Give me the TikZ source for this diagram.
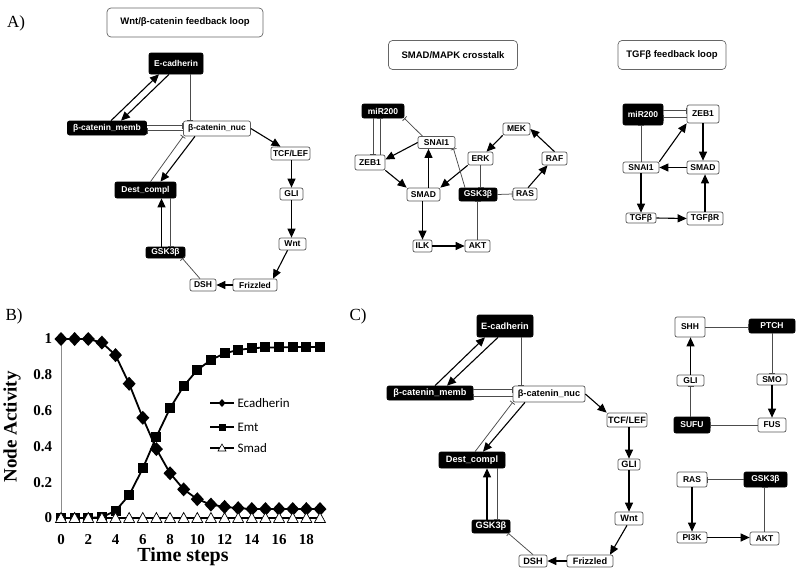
\documentclass[tikz,border=0pt]{standalone}
\usepackage{fontspec}
\setmainfont{Liberation Serif}
\newfontfamily\nodefont{Liberation Sans}
\newfontfamily\legfont{Carlito}
\usetikzlibrary{arrows.meta}
\begin{document}
\begin{tikzpicture}[x=1pt,y=-1pt,
  nbase/.style={rounded corners=2pt, line width=0.7pt, inner sep=0pt, font=\nodefont\bfseries\fontsize{8.5}{10}\selectfont},
  wn/.style={nbase, draw=black!65, fill=white, text=black},
  bn/.style={nbase, draw=black, fill=black, text=white},
  big/.style={font=\nodefont\bfseries\fontsize{9.2}{11}\selectfont},
  sz/.style 2 args={minimum width=#1pt, minimum height=#2pt},
  tbox/.style={draw=black!60, line width=0.7pt, rounded corners=4pt, fill=white, inner sep=0pt, font=\nodefont\bfseries\fontsize{9.5}{11}\selectfont},
  act/.style={-{Triangle[length=9pt,width=8pt]}, line width=1.1pt, black},
  inh/.style={-{Bar[width=6pt]}, line width=0.75pt, black!70},
  plab/.style={font=\fontsize{17}{20}\selectfont},
  tick/.style={font=\bfseries\fontsize{15}{17}\selectfont},
  leg/.style={anchor=west, font=\legfont\fontsize{13}{15}\selectfont}
]
\fill[white] (0,0) rectangle (800,573);
\useasboundingbox (0,0) rectangle (800,573);

% ---------- labels ----------
\node[plab] (lA) at (16,23) {A)};
\node[plab] (lB) at (14,316) {B)};
\node[plab] (lC) at (358,316) {C)};

% ---------- titles ----------
\node[tbox, minimum width=156pt, minimum height=29pt] (t1) at (185,22.5) {Wnt/β-catenin feedback loop};
\node[tbox, minimum width=129pt, minimum height=29pt] (t2) at (453,55) {SMAD/MAPK crosstalk};
\node[tbox, minimum width=108pt, minimum height=29pt] (t3) at (672,55) {TGFβ feedback loop};

% ---------- Panel A left ----------
\node[bn, sz={54}{21}] (ecadA) at (176,63.5) {E-cadherin};
\node[bn, sz={79}{14}] (membA) at (107,128) {β-catenin\_memb};
\node[wn, sz={67}{15}] (nucA) at (217,128.5) {β-catenin\_nuc};
\node[wn, sz={39}{13}] (tcfA) at (290.5,153.5) {TCF/LEF};
\node[wn, sz={23}{12}] (gliA) at (291.5,194) {GLI};
\node[wn, sz={27}{12}] (wntA) at (292.5,244) {Wnt};
\node[wn, sz={44}{12}] (frizA) at (255,285) {Frizzled};
\node[wn, sz={26}{12}] (dshA) at (203,285) {DSH};
\node[bn, sz={39}{11}] (gskA) at (165.5,252.5) {GSK3β};
\node[bn, sz={61}{16}] (destA) at (145.5,190) {Dest\_compl};

\draw[act] ([xshift=4pt]membA.north) -- ([xshift=-17pt]ecadA.south);
\draw[act] ([xshift=-7pt]ecadA.south) -- ([xshift=14pt]membA.north);
\draw[inh] ([xshift=14pt]ecadA.south) -- ([xshift=14pt]ecadA.south |- nucA.north);
\draw[inh] ([yshift=2.5pt]membA.east) -- ([yshift=2.5pt]membA.east -| nucA.west);
\draw[inh] ([yshift=-2.5pt]membA.east -| nucA.west) -- ([yshift=-2.5pt]membA.east);
\draw[act] ([xshift=-22pt]nucA.south) -- ([xshift=15pt]destA.north);
\draw[inh] ([xshift=5pt]destA.north) -- (nucA.south west);
\draw[act] (nucA.east) -- ([xshift=-10pt]tcfA.north);
\draw[act] (gliA.north |- tcfA.south) -- (gliA.north);
\draw[act] (gliA.south) -- (gliA.south |- wntA.north);
\draw[act] ([xshift=-5pt]wntA.south) -- ([xshift=18pt]frizA.north);
\draw[act] (frizA.west) -- (dshA.east);
\draw[inh] ([xshift=-3pt]dshA.north) -- ([xshift=-3pt]gskA.south east);
\draw[act] ([xshift=-4pt]gskA.north) -- ([xshift=-4pt]gskA.north |- destA.south);
\draw[inh] ([xshift=5pt]gskA.north |- destA.south) -- ([xshift=5pt]gskA.north);

% ---------- Panel A middle ----------
\node[bn, sz={42}{14}] (mirM) at (383,111) {miR200};
\node[wn, sz={30}{15}] (zebM) at (370,162.5) {ZEB1};
\node[wn, sz={37}{12}] (snaiM) at (436.5,142.5) {SNAI1};
\node[wn, sz={33}{13}] (smadM) at (423.5,194.5) {SMAD};
\node[wn, sz={25}{13}] (erkM) at (480.5,158.5) {ERK};
\node[wn, sz={27}{12}] (mekM) at (516.5,129) {MEK};
\node[wn, sz={25}{13}] (rafM) at (554.5,158.5) {RAF};
\node[wn, sz={24}{12}] (rasM) at (525,194) {RAS};
\node[bn, sz={38}{13}] (gskM) at (478,194.5) {GSK3β};
\node[wn, sz={19}{12}] (ilkM) at (422.5,246) {ILK};
\node[wn, sz={25}{12}] (aktM) at (477.5,246) {AKT};

\draw[inh] ([xshift=-10pt]mirM.south) -- ([xshift=-10pt]mirM.south |- zebM.north);
\draw[inh] ([xshift=-3pt]mirM.south |- zebM.north) -- ([xshift=-3pt]mirM.south);
\draw[inh] ([xshift=-14pt]snaiM.north) -- (mirM.south east);
\draw[act] (snaiM.west) -- ([yshift=3pt]zebM.east);
\draw[act] (zebM.south east) -- (smadM.north west);
\draw[act] ([xshift=5pt]smadM.north) -- ([xshift=5pt]smadM.north |- snaiM.south);
\draw[act] (erkM.south west) -- (smadM.north east);
\draw[inh] ([xshift=-13pt]gskM.north) -- ([xshift=17pt]snaiM.south);
\draw[act] (mekM.south west) -- ([xshift=6pt]erkM.north);
\draw[act] ([xshift=3pt]rasM.north) -- ([xshift=-7pt]rafM.south);
\draw[act] (rafM.north) -- (mekM.east);
\draw[inh] (erkM.south) -- (erkM.south |- gskM.north);
\draw[inh] (gskM.east) -- (rasM.west);
\draw[act] (ilkM.north |- smadM.south) -- (ilkM.north);
\draw[act] (ilkM.east) -- (aktM.west);
\draw[inh] (aktM.north) -- (aktM.north |- gskM.south);

% ---------- Panel A right ----------
\node[bn, sz={40}{21}] (mirR) at (643,114.5) {miR200};
\node[wn, sz={32}{18}] (zebR) at (703,114) {ZEB1};
\node[wn, sz={36}{11}] (snaiR) at (641,167.5) {SNAI1};
\node[wn, sz={32}{13}] (smadR) at (703,167.5) {SMAD};
\node[wn, sz={30}{10}] (tgfR) at (641,218) {TGFβ};
\node[wn, sz={36}{13}] (tgfrR) at (705,218.5) {TGFβR};

\draw[inh] ([yshift=4pt]mirR.east) -- ([yshift=4pt]mirR.east -| zebR.west);
\draw[inh] ([yshift=-3pt]mirR.east -| zebR.west) -- ([yshift=-3pt]mirR.east);
\draw[inh] (snaiR.north) -- (snaiR.north |- mirR.south);
\draw[act] (snaiR.north east) -- (zebR.south west);
\draw[act] (zebR.south) -- (zebR.south |- smadR.north);
\draw[act] (smadR.west) -- (snaiR.east);
\draw[act] (snaiR.south) -- (tgfR.north);
\draw[act] (tgfR.east) -- (tgfrR.west);
\draw[act] (tgfrR.north) -- (tgfrR.north |- smadR.south);

% ---------- Panel C left ----------
\node[bn, big, sz={56}{22}] (ecadC) at (505,326) {E-cadherin};
\node[bn, big, sz={86}{14}] (membC) at (430,393) {β-catenin\_memb};
\node[wn, big, sz={72}{16}] (nucC) at (549,394) {β-catenin\_nuc};
\node[wn, big, sz={40}{14}] (tcfC) at (627,420) {TCF/LEF};
\node[wn, big, sz={22}{11}] (gliC) at (629,464.5) {GLI};
\node[wn, big, sz={28}{13}] (wntC) at (629,518.5) {Wnt};
\node[wn, big, sz={46}{12}] (frizC) at (590,561) {Frizzled};
\node[wn, big, sz={28}{12}] (dshC) at (533,561) {DSH};
\node[bn, big, sz={38}{13}] (gskC) at (491,526.5) {GSK3β};
\node[bn, big, sz={66}{16}] (destC) at (472,460) {Dest\_compl};

\draw[act] ([xshift=5pt]membC.north) -- ([xshift=-20pt]ecadC.south);
\draw[act] ([xshift=-7pt]ecadC.south) -- ([xshift=17pt]membC.north);
\draw[inh] ([xshift=16pt]ecadC.south) -- ([xshift=16pt]ecadC.south |- nucC.north);
\draw[inh] ([yshift=3.5pt]membC.east) -- ([yshift=3.5pt]membC.east -| nucC.west);
\draw[inh] ([yshift=-3.5pt]membC.east -| nucC.west) -- ([yshift=-3.5pt]membC.east);
\draw[act] ([xshift=-24pt]nucC.south) -- ([xshift=11pt]destC.north);
\draw[inh] ([xshift=3pt]destC.north) -- (nucC.south west);
\draw[act] (nucC.east) -- (tcfC.north west);
\draw[act] (gliC.north |- tcfC.south) -- (gliC.north);
\draw[act] (gliC.south) -- (gliC.south |- wntC.north);
\draw[act] ([xshift=-2pt]wntC.south) -- ([xshift=20pt]frizC.north);
\draw[act] (frizC.west) -- (dshC.east);
\draw[inh] (dshC.north) -- ([xshift=-2pt]gskC.south east);
\draw[act] ([xshift=-4pt]gskC.north) -- ([xshift=-4pt]gskC.north |- destC.south);
\draw[inh] ([xshift=6pt]gskC.north |- destC.south) -- ([xshift=6pt]gskC.north);

% ---------- Panel C right ----------
\node[wn, sz={30}{20}] (shhC) at (690,327) {SHH};
\node[bn, sz={46}{14}] (ptchC) at (772,326) {PTCH};
\node[wn, sz={27}{11}] (gli2C) at (690.5,380.5) {GLI};
\node[wn, sz={30}{11}] (smoC) at (772,379.5) {SMO};
\node[bn, sz={36}{16}] (sufuC) at (692,425) {SUFU};
\node[wn, sz={28}{14}] (fusC) at (772,425) {FUS};
\node[wn, sz={30}{15}] (rasC) at (692,479.5) {RAS};
\node[bn, sz={43}{15}] (gsk2C) at (765.5,479.5) {GSK3β};
\node[wn, sz={30}{11}] (pi3kC) at (692,537.5) {PI3K};
\node[wn, sz={29}{13}] (aktC) at (764.5,538.5) {AKT};

\draw[inh] (shhC.east) -- (shhC.east -| ptchC.west);
\draw[inh] (ptchC.south) -- (ptchC.south |- smoC.north);
\draw[act] (smoC.south) -- (smoC.south |- fusC.north);
\draw[inh] (fusC.west) -- (fusC.west -| sufuC.east);
\draw[inh] (gli2C.south |- sufuC.north) -- (gli2C.south);
\draw[act] (gli2C.north) -- (gli2C.north |- shhC.south);
\draw[inh] (gsk2C.west) -- (gsk2C.west -| rasC.east);
\draw[act] (rasC.south) -- (rasC.south |- pi3kC.north);
\draw[act] (pi3kC.east) -- (pi3kC.east -| aktC.west);
\draw[inh] (aktC.north) -- (aktC.north |- gsk2C.south);

% ---------- Panel B plot ----------
\begin{scope}[shift={(61,518)}, x=13.63pt, y=179pt]
  \draw[black!45, line width=0.6pt] (0,0) -- (0,1);
  \draw[black!45, line width=0.6pt] (0,0) -- (19.3,0);
  \foreach \v/\l [count=\i] in {0/0,0.2/0.2,0.4/0.4,0.6/0.6,0.8/0.8,1/1}
    \node[tick, anchor=east] (yt\i) at (-0.4,\v) {\l};
  \foreach \t in {0,2,...,18}
    \node[tick] (xt\t) at (\t,-0.12) {\t};
  % Ecadherin
  \draw[line width=1.8pt, line join=round] plot coordinates {(0,1) (1,1) (2,1) (3,0.98) (4,0.91) (5,0.75) (6,0.56) (7,0.385) (8,0.25) (9,0.16) (10,0.105) (11,0.075) (12,0.062) (13,0.055) (14,0.05) (15,0.05) (16,0.05) (17,0.05) (18,0.05) (19,0.05)};
  \foreach \t/\v in {0/1,1/1,2/1,3/0.98,4/0.91,5/0.75,6/0.56,7/0.385,8/0.25,9/0.16,10/0.105,11/0.075,12/0.062,13/0.055,14/0.05,15/0.05,16/0.05,17/0.05,18/0.05,19/0.05}
    \fill (\t,\v) ++(0pt,7pt) -- ++(6.5pt,-7pt) -- ++(-6.5pt,-7pt) -- ++(-6.5pt,7pt) -- cycle;
  % Emt
  \draw[line width=1.8pt, line join=round] plot coordinates {(0,0) (1,0) (2,0) (3,0.005) (4,0.04) (5,0.128) (6,0.277) (7,0.454) (8,0.613) (9,0.737) (10,0.827) (11,0.883) (12,0.92) (13,0.939) (14,0.948) (15,0.953) (16,0.953) (17,0.955) (18,0.955) (19,0.955)};
  \foreach \t/\v in {0/0,1/0,2/0,3/0.005,4/0.04,5/0.128,6/0.277,7/0.454,8/0.613,9/0.737,10/0.827,11/0.883,12/0.92,13/0.939,14/0.948,15/0.953,16/0.953,17/0.955,18/0.955,19/0.955}
    \fill (\t,\v) ++(-5pt,-5pt) rectangle ++(10pt,10pt);
  % Smad
  \draw[line width=1.8pt] (0,0) -- (19,0);
  \foreach \t in {0,...,19}
    \draw[fill=white, line width=0.7pt, line join=miter] (\t,0) ++(0pt,5.5pt) -- ++(5.5pt,-10pt) -- ++(-11pt,0pt) -- cycle;
\end{scope}

\node[rotate=90, font=\bfseries\fontsize{19}{22}\selectfont] (ylab) at (12,427) {Node Activity};
\node[font=\bfseries\fontsize{20}{24}\selectfont] (xlab) at (183,557) {Time steps};

% legend
\draw[line width=1.8pt] (210,403) -- (234,403);
\fill (222,399) -- (225.5,403) -- (222,407) -- (218.5,403) -- cycle;
\node[leg] (lg1) at (234,403) {Ecadherin};
\draw[line width=1.8pt] (210,427) -- (234,427);
\fill (218.5,423.5) rectangle (225.5,430.5);
\node[leg] (lg2) at (234,427) {Emt};
\draw[line width=1.8pt] (210,448) -- (234,448);
\draw[fill=white, line width=0.6pt] (222,444) -- (226,451) -- (218,451) -- cycle;
\node[leg] (lg3) at (234,448) {Smad};
\end{tikzpicture}
\end{document}
